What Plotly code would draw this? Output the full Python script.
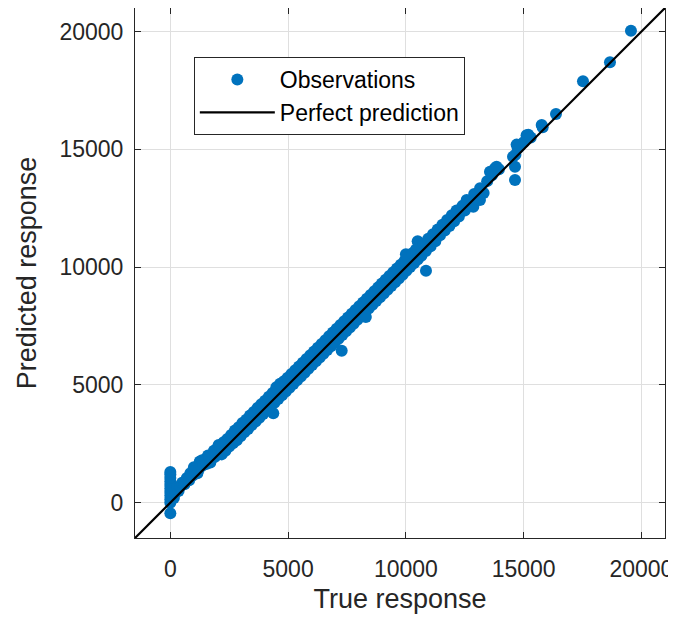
import plotly.graph_objects as go

# ---- Observations (true response vs predicted response) ----
true_zero = [0, 0, 0, 0, 0, 0, 0, 0, 0, 0, 0, 150, 200]
pred_zero = [-450, 0, 150, 300, 450, 600, 750, 900, 1050, 1200, 1300, 200, 400]

true_low = [300, 350, 420, 500, 600, 700, 800, 850, 950, 1000, 1050, 1150, 1200, 1250,
            1300, 1350, 1400, 1500, 1550, 1600, 1650, 1700, 1750, 1800, 1850, 1900,
            1950, 2000, 2050]
pred_low = [650, 500, 700, 850, 780, 1050, 950, 1250, 1150, 1500, 1350, 1250, 1400, 1750,
            1550, 1800, 1600, 1850, 1650, 2000, 1950, 1700, 1850, 2050, 2200, 1950,
            2250, 2300, 2450]

true_mid = [
    2100, 2180, 2260, 2340, 2420, 2500, 2580, 2660, 2740, 2820,
    2900, 2980, 3060, 3140, 3220, 3300, 3380, 3460, 3540, 3620,
    3700, 3780, 3860, 3940, 4020, 4100, 4180, 4260, 4340, 4370,
    4420, 4500, 4580, 4660, 4740, 4820, 4900, 4980, 5060, 5140,
    5220, 5300, 5380, 5460, 5540, 5620, 5700, 5780, 5860, 5940,
    6020, 6100, 6180, 6260, 6340, 6420, 6500, 6580, 6660, 6740,
    6820, 6900, 6980, 7060, 7140, 7220, 7274, 7300, 7380, 7460,
    7540, 7620, 7700, 7780, 7860, 7940, 8020, 8100, 8180, 8260,
    8300, 8340, 8420, 8500, 8580, 8660, 8740, 8820, 8900, 8980,
    9060, 9140, 9220, 9300, 9380, 9460, 9540, 9620, 9700, 9780,
    9860, 9940, 10000, 10020, 10100, 10180, 10260, 10340, 10420, 10500,
    10500, 10580, 10660, 10750, 10853, 10850, 10950, 11050,
]
pred_mid = [
    2420, 2050, 2560, 2200, 2700, 2380, 2870, 2520, 3060, 2650,
    3200, 2820, 3380, 2990, 3520, 3130, 3700, 3300, 3850, 3450,
    4020, 3600, 4180, 3760, 4330, 3920, 4500, 4080, 4660, 3800,
    4240, 4900, 4400, 5050, 4560, 5150, 4720, 5300, 4880, 5460,
    5040, 5620, 5200, 5780, 5360, 5940, 5520, 6100, 5680, 6260,
    5840, 6420, 6000, 6580, 6160, 6740, 6320, 6900, 6480, 7060,
    6640, 7220, 6800, 7380, 6960, 7540, 6450, 7120, 7700, 7280,
    7860, 7440, 8020, 7600, 8180, 7760, 8340, 7920, 8500, 8080,
    7880, 8660, 8240, 8820, 8400, 8980, 8560, 9140, 8720, 9300,
    8880, 9460, 9040, 9620, 9200, 9780, 9360, 9940, 9520, 10100,
    9680, 10260, 10550, 9840, 10420, 10000, 10580, 10160, 10740, 11100,
    10320, 10900, 10480, 11000, 9850, 10680, 11200, 10880,
]

true_upper = [11150, 11250, 11350, 11450, 11550, 11650, 11750, 11850, 11950, 12050,
              12150, 12250, 12400, 12500, 12580, 12700, 12862, 12900, 13000, 13145,
              13150, 13300]
pred_upper = [11400, 11100, 11600, 11350, 11800, 11550, 12000, 11750, 12200, 11950,
              12400, 12150, 12600, 12400, 12850, 12600, 12563, 13100, 12850, 12846,
              13350, 13150]

true_top = [13450, 13570, 13650, 13782, 13850, 13950, 14547, 14632, 14632, 14650,
            14700, 14750, 14850, 15000, 15123, 15196, 15300, 15765, 15807, 16372,
            17518, 18664, 19555]
pred_top = [13650, 14050, 13900, 14193, 14264, 14150, 14687, 13700, 14264, 14770,
            15200, 15050, 15150, 15300, 15600, 15621, 15500, 16032, 15934, 16500,
            17887, 18694, 20035]

true_resp = true_zero + true_low + true_mid + true_upper + true_top
pred_resp = pred_zero + pred_low + pred_mid + pred_upper + pred_top
assert len(true_resp) == len(pred_resp)

# Perfect prediction line (spans the axis limits)
line_x = [-1500, 21000]
line_y = [-1500, 21000]

x_range = [-1500, 21000]
y_range = [-1500, 21000]
tick_vals = [0, 5000, 10000, 15000, 20000]
tick_text = ["0", "5000", "10000", "15000", "20000"]

blue = "#0072BD"
axis_col = "#262626"
font_family = "Liberation Sans, Arial, sans-serif"

fig = go.Figure()
fig.add_trace(go.Scatter(
    x=true_resp, y=pred_resp, mode="markers", name="Observations",
    marker=dict(color=blue, size=12, line=dict(width=0)),
))
fig.add_trace(go.Scatter(
    x=line_x, y=line_y, mode="lines", name="Perfect prediction",
    line=dict(color="black", width=2.2),
))

axis_common = dict(
    showline=True, linecolor=axis_col, linewidth=1, mirror="ticks",
    ticks="inside", ticklen=6, tickcolor=axis_col, tickwidth=1,
    showgrid=True, gridcolor="#dfdfdf", gridwidth=1,
    zeroline=False, tickvals=tick_vals, ticktext=tick_text,
    tickfont=dict(family=font_family, size=23, color=axis_col),
)

fig.update_xaxes(
    range=x_range, **axis_common, ticklabelstandoff=10,
    title=dict(text="True response", font=dict(family=font_family, size=27, color=axis_col), standoff=8),
)
fig.update_yaxes(
    range=y_range, **axis_common, ticklabelstandoff=6,
    title=dict(text="Predicted response", font=dict(family=font_family, size=27, color=axis_col), standoff=14),
)

# The page adds an 8px body margin, so the figure is offset by 8px right and down.
fig.update_layout(
    width=668, height=614,
    margin=dict(l=127, r=11, t=0, b=84, autoexpand=False),
    plot_bgcolor="white", paper_bgcolor="white",
    showlegend=True,
    legend=dict(
        x=0.111, y=0.9075, xanchor="left", yanchor="top",
        bgcolor="white", bordercolor="#262626", borderwidth=1,
        font=dict(family=font_family, size=23, color="black"),
        itemwidth=75, tracegroupgap=0,
    ),
)

fig.write_html("out.html")
